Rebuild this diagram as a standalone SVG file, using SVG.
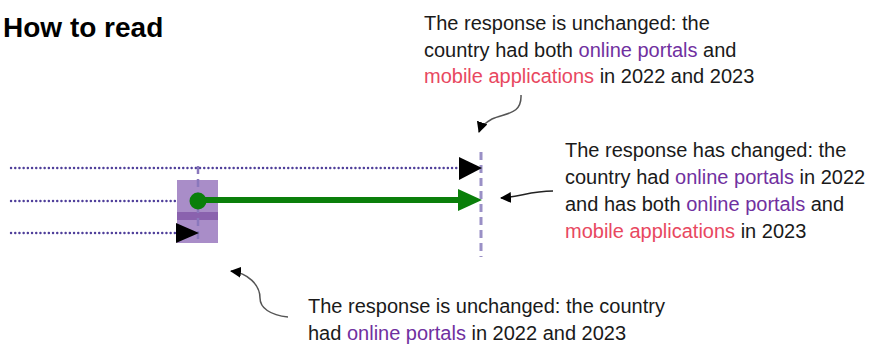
<svg xmlns="http://www.w3.org/2000/svg" width="879" height="345" viewBox="0 0 879 345">
<defs>
<style>
.t{font-family:"Liberation Sans",Arial,sans-serif;font-size:20px;fill:#1a1a1a}
.title{font-family:"Liberation Sans",Arial,sans-serif;font-size:28px;font-weight:bold;fill:#000}
.op{fill:#7030a0}
.ma{fill:#e8485f}
.dot{stroke:#4f3f9a;stroke-width:2.4;stroke-dasharray:0.1 4.1;stroke-linecap:round;fill:none}
.dash{stroke:#9a90c6;stroke-width:3;stroke-dasharray:8 5;fill:none}
.call{fill:none;stroke:#555;stroke-width:1.5}
</style>
<marker id="ah" markerWidth="11" markerHeight="11" refX="10" refY="5.5" orient="auto" markerUnits="userSpaceOnUse">
<path d="M0,0 L11,5.5 L0,11 Z" fill="#000"/>
</marker>
</defs>
<rect width="879" height="345" fill="#fff"/>

<g id="title"><text class="title" x="3" y="37">How to read</text></g>

<g id="connectors">
<line class="dot" x1="11" y1="168" x2="460" y2="168"/>
<line class="dot" x1="11" y1="201" x2="190" y2="201"/>
<line class="dot" x1="11" y1="233" x2="178" y2="233"/>
<path class="call" d="M521,95 C522,115 505,113 492,119 C483,124 480,129 479,132" marker-end="url(#ah)"/>
<path class="call" d="M553,191 C530,191 520,197 501,198" marker-end="url(#ah)" style="stroke:#222"/>
<path class="call" d="M288,317 C270,315 260,308 260,298 C260,285 248,273 231,271" marker-end="url(#ah)"/>
</g>

<g id="node-left">
<rect x="177" y="180" width="41" height="63" fill="#a98dc8"/>
<rect x="177" y="212" width="41" height="8" fill="#8a62ae"/>
<line x1="198" y1="166" x2="198" y2="243" stroke="#8a78bc" stroke-width="2.5" stroke-dasharray="8 5"/>
<path d="M176,223 L199,233 L176,243 Z" fill="#000"/>
</g>

<g id="node-change">
<line x1="198" y1="200" x2="460" y2="200" stroke="#0a7f0a" stroke-width="6"/>
<path d="M458,189 L482,200 L458,211 Z" fill="#0a7f0a"/>
<circle cx="198" cy="201" r="8.5" fill="#0a7f0a"/>
</g>

<g id="node-right">
<line class="dash" x1="481" y1="152" x2="481" y2="257"/>
<path d="M459,157 L482,168 L459,180 Z" fill="#000"/>
</g>

<g id="label-top">
<text class="t" x="424" y="30">The response is unchanged: the</text>
<text class="t" x="424" y="56.5">country had both <tspan class="op">online portals</tspan> and</text>
<text class="t" x="424" y="83"><tspan class="ma">mobile applications</tspan> in 2022 and 2023</text>
</g>

<g id="label-right">
<text class="t" x="565" y="157">The response has changed: the</text>
<text class="t" x="565" y="184">country had <tspan class="op">online portals</tspan> in 2022</text>
<text class="t" x="565" y="211">and has both <tspan class="op">online portals</tspan> and</text>
<text class="t" x="565" y="238"><tspan class="ma">mobile applications</tspan> in 2023</text>
</g>

<g id="label-bottom">
<text class="t" x="308" y="313">The response is unchanged: the country</text>
<text class="t" x="308" y="340">had <tspan class="op">online portals</tspan> in 2022 and 2023</text>
</g>
</svg>
